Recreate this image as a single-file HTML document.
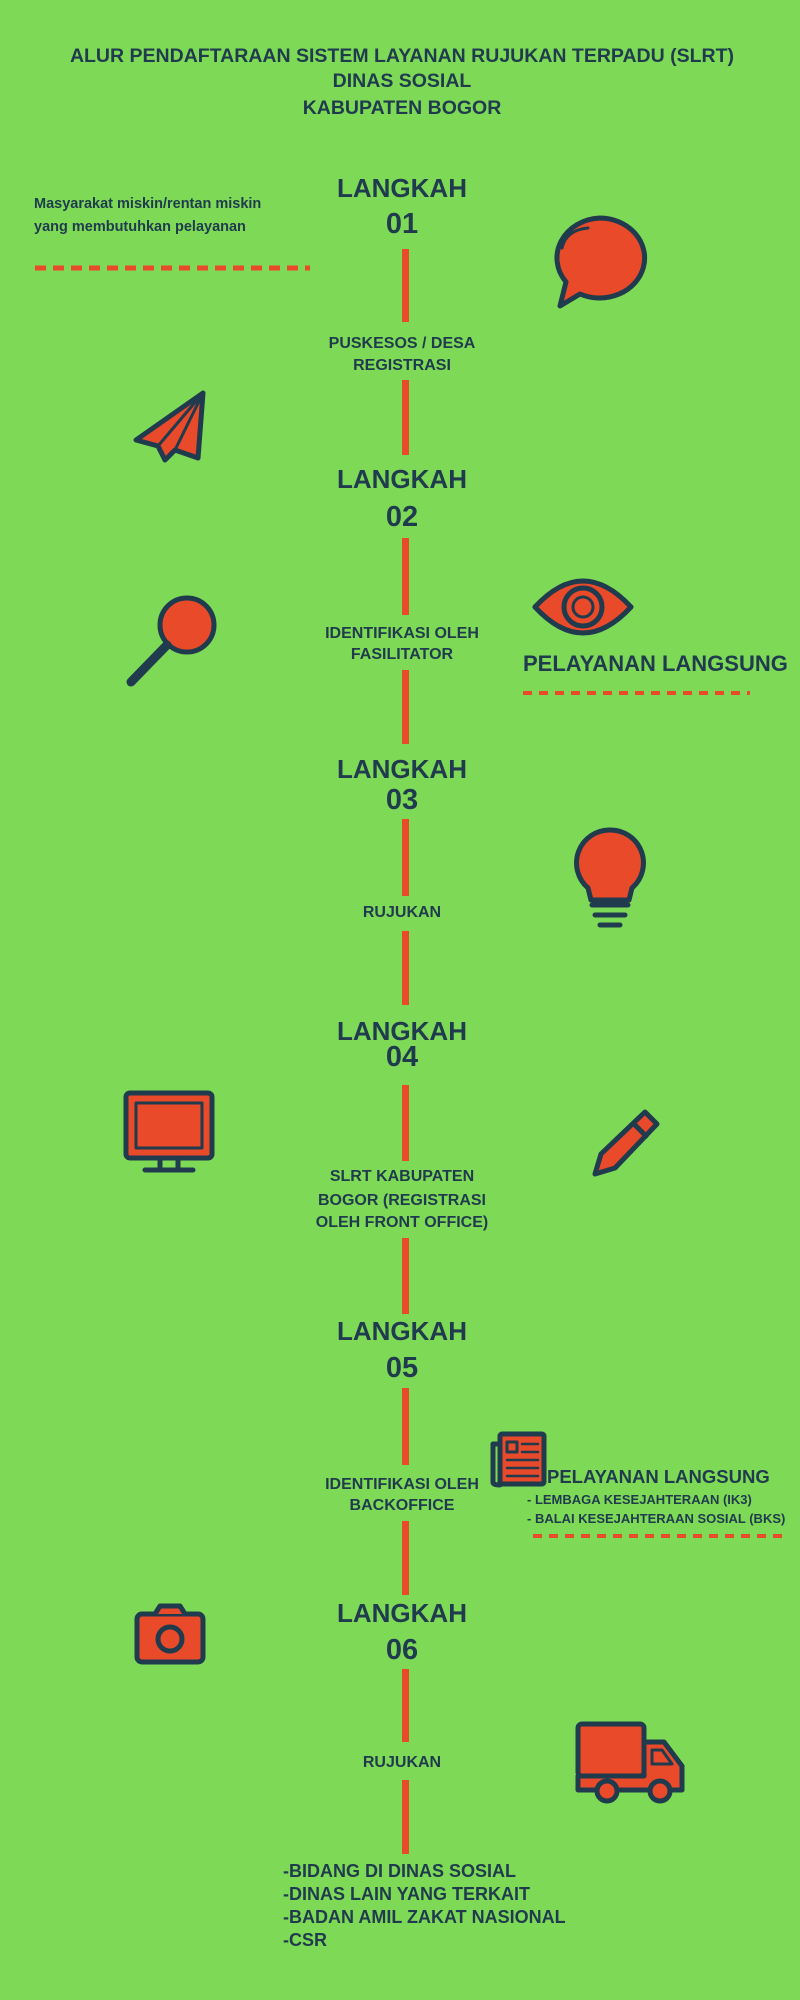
<!DOCTYPE html>
<html><head><meta charset="utf-8"><style>
html,body{margin:0;padding:0;background:#7ed957;}
svg{display:block}
text{font-family:"Liberation Sans",sans-serif;font-weight:bold;fill:#1f3b4d}
</style></head><body>
<svg width="800" height="2000" viewBox="0 0 800 2000" xmlns="http://www.w3.org/2000/svg">
<rect width="800" height="2000" fill="#7ed957"/>
<g text-anchor="middle">
<text x="402" y="62" font-size="19.5">ALUR PENDAFTARAAN SISTEM LAYANAN RUJUKAN TERPADU (SLRT)</text>
<text x="402" y="87" font-size="19.5">DINAS SOSIAL</text>
<text x="402" y="114" font-size="19.5">KABUPATEN BOGOR</text>
</g>
<g fill="#e84a2a">
<rect x="402" y="249" width="7" height="73"/>
<rect x="402" y="380" width="7" height="75"/>
<rect x="402" y="538" width="7" height="77"/>
<rect x="402" y="670" width="7" height="74"/>
<rect x="402" y="819" width="7" height="77"/>
<rect x="402" y="931" width="7" height="74"/>
<rect x="402" y="1085" width="7" height="76"/>
<rect x="402" y="1238" width="7" height="76"/>
<rect x="402" y="1388" width="7" height="77"/>
<rect x="402" y="1521" width="7" height="74"/>
<rect x="402" y="1669" width="7" height="73"/>
<rect x="402" y="1780" width="7" height="74"/>
</g>
<g text-anchor="middle" font-size="26">
<text x="402" y="197">LANGKAH</text><text x="402" y="233" font-size="29">01</text>
<text x="402" y="488">LANGKAH</text><text x="402" y="526" font-size="29">02</text>
<text x="402" y="778">LANGKAH</text><text x="402" y="809" font-size="29">03</text>
<text x="402" y="1040">LANGKAH</text><text x="402" y="1066" font-size="29">04</text>
<text x="402" y="1340">LANGKAH</text><text x="402" y="1377" font-size="29">05</text>
<text x="402" y="1622">LANGKAH</text><text x="402" y="1659" font-size="29">06</text>
</g>
<g text-anchor="middle" font-size="16">
<text x="402" y="348">PUSKESOS / DESA</text><text x="402" y="370">REGISTRASI</text>
<text x="402" y="638">IDENTIFIKASI OLEH</text><text x="402" y="659">FASILITATOR</text>
<text x="402" y="917">RUJUKAN</text>
<text x="402" y="1181">SLRT KABUPATEN</text><text x="402" y="1205">BOGOR (REGISTRASI</text><text x="402" y="1227">OLEH FRONT OFFICE)</text>
<text x="402" y="1489">IDENTIFIKASI OLEH</text><text x="402" y="1510">BACKOFFICE</text>
<text x="402" y="1767">RUJUKAN</text>
</g>
<text x="34" y="208" font-size="14.5">Masyarakat miskin/rentan miskin</text>
<text x="34" y="231" font-size="14.5">yang membutuhkan pelayanan</text>
<line x1="35" y1="268" x2="310" y2="268" stroke="#e84a2a" stroke-width="5" stroke-dasharray="11 7"/>
<text x="523" y="671" font-size="22">PELAYANAN LANGSUNG</text>
<line x1="523" y1="693" x2="750" y2="693" stroke="#e84a2a" stroke-width="4" stroke-dasharray="9 7"/>
<text x="547" y="1483" font-size="18.5">PELAYANAN LANGSUNG</text>
<text x="527" y="1504" font-size="13">- LEMBAGA KESEJAHTERAAN (IK3)</text>
<text x="527" y="1523" font-size="13">- BALAI KESEJAHTERAAN SOSIAL (BKS)</text>
<line x1="533" y1="1536" x2="787" y2="1536" stroke="#e84a2a" stroke-width="4" stroke-dasharray="9 7"/>
<g font-size="18">
<text x="283" y="1877">-BIDANG DI DINAS SOSIAL</text>
<text x="283" y="1900">-DINAS LAIN YANG TERKAIT</text>
<text x="283" y="1923">-BADAN AMIL ZAKAT NASIONAL</text>
<text x="283" y="1946">-CSR</text>
</g>
<g stroke="#1f3b4d" stroke-width="5" stroke-linejoin="round" stroke-linecap="round" fill="#e84a2a">
<path d="M600 218 a45 40 0 1 1 -20 76 l-20 12 l6 -24 a45 40 0 0 1 34 -64z"/>
<path d="M562 248 q4 -18 26 -20" fill="none" stroke-width="3"/>
<path d="M203 393 L136 440 L158 446 L165 460 L175 450 L198 458 Z"/>
<path d="M203 393 L158 446 M203 393 L175 450" fill="none" stroke-width="3"/>
<circle cx="187" cy="625" r="27"/>
<line x1="167" y1="645" x2="131" y2="682" stroke-width="9"/>
<path d="M535 607 Q583 555 631 607 Q583 659 535 607Z"/>
<circle cx="583" cy="607" r="19"/>
<circle cx="583" cy="607" r="10" fill="none" stroke-width="3"/>
<path d="M610 830 a33 33 0 0 1 22 58 l-3 12 h-38 l-3 -12 a33 33 0 0 1 22 -58z"/>
<path d="M592 905 h36 M595 915 h30 M600 925 h20" fill="none"/>
<rect x="126" y="1093" width="86" height="65" rx="4"/>
<rect x="136" y="1103" width="66" height="45" fill="#e84a2a" stroke-width="3"/>
<path d="M160 1160 v10 h-15 h48 h-15 v-10" fill="none"/>
<path d="M645 1112 l12 12 l-42 44 l-20 6 l6 -20z"/>
<path d="M634 1124 l12 12" fill="none"/>
<rect x="500" y="1434" width="44" height="50" rx="2"/>
<path d="M500 1444 h-7 v38 q0 3 7 3" fill="none"/>
<rect x="507" y="1442" width="10" height="10" fill="none" stroke-width="3"/>
<path d="M522 1444 h16 M522 1452 h16 M507 1460 h31 M507 1468 h31 M507 1476 h31" stroke-width="2.5" fill="none"/>
<rect x="137" y="1614" width="66" height="48" rx="5"/>
<path d="M155 1614 l5 -8 h20 l5 8" fill="#e84a2a"/>
<circle cx="170" cy="1639" r="12"/>
<rect x="578" y="1724" width="66" height="52" rx="4"/>
<path d="M644 1742 h20 l18 24 v24 h-104 v-14 h66z"/>
<path d="M652 1750 h10 l10 14 h-20z" fill="none" stroke-width="3"/>
<circle cx="607" cy="1791" r="10"/>
<circle cx="660" cy="1791" r="10"/>
</g>
</svg>
</body></html>
